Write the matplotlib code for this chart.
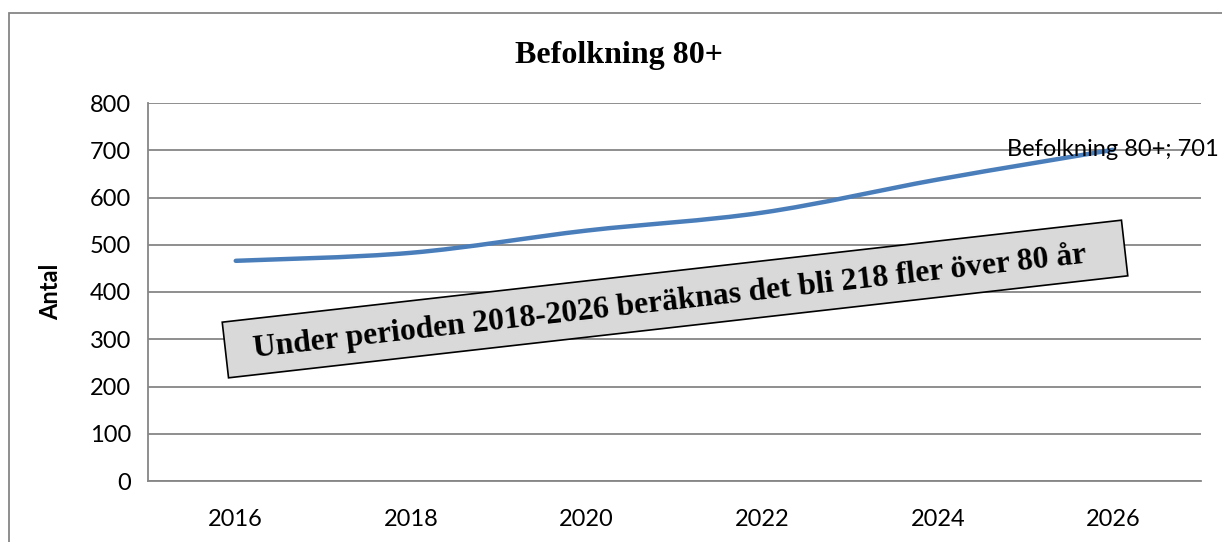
import numpy as np
import matplotlib.pyplot as plt
from matplotlib.path import Path
from matplotlib.patches import PathPatch, Polygon, Rectangle

# Data
years = ["2016", "2018", "2020", "2022", "2024", "2026"]
population_80 = [466, 483, 530, 568, 638, 701]
series_name = "Befolkning 80+"
note = "Under perioden 2018-2026 beräknas det bli 218 fler över 80 år"

W, H = 1222, 542
fig = plt.figure(figsize=(W / 100, H / 100), dpi=100)

# outer chart frame (only top and left edges visible)
fig.patches.append(Rectangle((9 / W, -0.1), 1.2, 1.1 - 13 / H, transform=fig.transFigure,
                             fill=False, edgecolor="#868686", linewidth=1.3))

ax = fig.add_axes([148 / W, 1 - 481 / H, (1201 - 148) / W, (481 - 103) / H])

x = np.arange(len(years))
y = np.array(population_80, dtype=float)

# smoothed line (Catmull-Rom style bezier through the points)
verts = [(x[0], y[0])]
codes = [Path.MOVETO]
for i in range(len(x) - 1):
    p0 = np.array([x[max(i - 1, 0)], y[max(i - 1, 0)]])
    p1 = np.array([x[i], y[i]])
    p2 = np.array([x[i + 1], y[i + 1]])
    p3 = np.array([x[min(i + 2, len(x) - 1)], y[min(i + 2, len(x) - 1)]])
    c1 = p1 + (p2 - p0) / 6
    c2 = p2 - (p3 - p1) / 6
    verts += [tuple(c1), tuple(c2), tuple(p2)]
    codes += [Path.CURVE4] * 3
ax.add_patch(PathPatch(Path(verts, codes), fill=False, edgecolor="#4A7EBB",
                       linewidth=3.2, capstyle="round", zorder=3))

ax.set_xlim(-0.5, len(years) - 0.5)
ax.set_ylim(0, 800)
ax.set_yticks(range(0, 801, 100))
ax.set_xticks(x)
ax.set_xticklabels(years)

ax.grid(axis="y", color="#868686", linewidth=1.3)
ax.set_axisbelow(True)
for s in ["top", "right"]:
    ax.spines[s].set_visible(False)
ax.spines["left"].set_color("#868686")
ax.spines["bottom"].set_color("#868686")
ax.spines["left"].set_linewidth(1.3)
ax.spines["bottom"].set_linewidth(1.3)
ax.tick_params(length=0, labelsize=17, pad=12)
for lab in ax.get_xticklabels() + ax.get_yticklabels():
    lab.set_fontfamily("Lato")
ax.tick_params(axis="x", pad=20)

ax.set_ylabel("Antal", fontsize=17, fontweight="bold", family="Lato", labelpad=20)

fig.text(619 / W, 1 - 55 / H, series_name, ha="center", va="center",
         fontsize=23, fontweight="bold", family="Liberation Serif")

# data label on last point
ax.annotate(f"{series_name}; {population_80[-1]}", (x[-1], y[-1]),
            xytext=(-106, 0), textcoords="offset pixels", ha="left", va="center",
            fontsize=17, family="Lato", zorder=4, annotation_clip=False)

# rotated note box
cx, cy = 675, 299
bw, bh, ang = 905, 56, np.deg2rad(6.47)
u = np.array([np.cos(ang), -np.sin(ang)])
v = np.array([np.sin(ang), np.cos(ang)])
c = np.array([cx, cy])
corners = [c - u * bw / 2 - v * bh / 2, c + u * bw / 2 - v * bh / 2,
           c + u * bw / 2 + v * bh / 2, c - u * bw / 2 + v * bh / 2]
corners = [(p[0] / W, 1 - p[1] / H) for p in corners]
fig.patches.append(Polygon(corners, closed=True, transform=fig.transFigure,
                           facecolor="#D9D9D9", edgecolor="black", linewidth=1.2, zorder=5))
fig.text((cx - 5) / W, 1 - (cy + 3) / H, note, ha="center", va="center", rotation=6.47,
         rotation_mode="anchor", fontsize=22.8, fontweight="bold",
         family="Liberation Serif", zorder=6)

fig.savefig("out.png", dpi=100)
